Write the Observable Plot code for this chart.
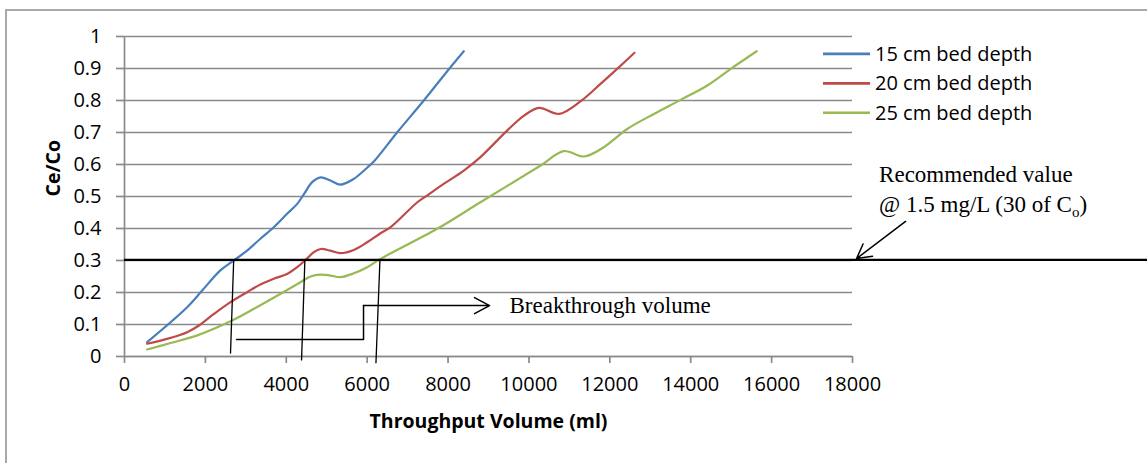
<!DOCTYPE html>
<html><head><meta charset="utf-8">
<script src="https://cdn.jsdelivr.net/npm/d3@7"></script>
<script src="https://cdn.jsdelivr.net/npm/@observablehq/plot@0.6"></script>
<style>
html,body{margin:0;padding:0;background:#fff;overflow:hidden;}
#wrap{position:relative;width:1147px;height:463px;}
#wrap svg{position:absolute;left:0;top:0;}
#frame{position:absolute;left:5px;top:9px;width:1300px;height:600px;border:2px solid #a8a8a8;box-sizing:border-box;pointer-events:none;z-index:2}
</style></head><body><div id="wrap"><div id="frame"></div></div>
<script>
// ---- data ----
const seriesNames = ["15 cm bed depth", "20 cm bed depth", "25 cm bed depth"];
const seriesColors = ["#4A7EBB", "#BE4B48", "#98B954"];

const vol15 = [560, 1550, 1920, 2370, 2700, 3030, 3360, 3690, 4020, 4270, 4440, 4640, 4850, 5090, 5340, 5670, 6000, 6170, 6740, 7400, 8060, 8390];
const ce15  = [0.045, 0.154, 0.206, 0.269, 0.300, 0.331, 0.368, 0.404, 0.446, 0.477, 0.508, 0.545, 0.560, 0.550, 0.537, 0.555, 0.590, 0.610, 0.700, 0.800, 0.904, 0.954];

const vol20 = [560, 1050, 1550, 1840, 2210, 2620, 3030, 3360, 3690, 4020, 4270, 4480, 4680, 4850, 5090, 5340, 5670, 6000, 6330, 6580, 7240, 7480, 7900, 8390, 8800, 9460, 9880, 10250, 10740, 11280, 11770, 12270, 12610];
const ce20  = [0.040, 0.055, 0.076, 0.097, 0.133, 0.170, 0.201, 0.225, 0.243, 0.258, 0.279, 0.302, 0.326, 0.336, 0.331, 0.323, 0.333, 0.357, 0.385, 0.404, 0.482, 0.503, 0.540, 0.581, 0.623, 0.706, 0.753, 0.777, 0.758, 0.798, 0.852, 0.909, 0.949];

const vol25 = [560, 1140, 1800, 2620, 3200, 3860, 4350, 4600, 4850, 5090, 5340, 5670, 6000, 6330, 7730, 8800, 10290, 10860, 11360, 11850, 12430, 13090, 13750, 14410, 14990, 15630];
const ce25  = [0.022, 0.042, 0.066, 0.110, 0.149, 0.196, 0.232, 0.250, 0.256, 0.253, 0.248, 0.260, 0.279, 0.305, 0.399, 0.482, 0.597, 0.642, 0.625, 0.654, 0.711, 0.758, 0.802, 0.847, 0.899, 0.954];

const xTicks = [0, 2000, 4000, 6000, 8000, 10000, 12000, 14000, 16000, 18000];
const xTickLabels = ["0", "2000", "4000", "6000", "8000", "10000", "12000", "14000", "16000", "18000"];
const yTicks = [0, 0.1, 0.2, 0.3, 0.4, 0.5, 0.6, 0.7, 0.8, 0.9, 1];
const yTickLabels = ["0", "0.1", "0.2", "0.3", "0.4", "0.5", "0.6", "0.7", "0.8", "0.9", "1"];

const xTitle = "Throughput Volume (ml)";
const yTitle = "Ce/Co";

// annotations (data units)
const recommendedCeCo = 0.302;
const breakthroughTop = [2700, 4460, 6316];
const breakthroughBottomX = [2621, 4377, 6217];
const breakthroughBottomY = [0.009, -0.0125, -0.021];
const bracketX = [2770, 5910, 5910];
const bracketY = [0.053, 0.053, 0.159];
const breakthroughLabel = "Breakthrough volume";
const recommendedLine1 = "Recommended value";
const recommendedLine2 = ["@ 1.5 mg/L (30 of C", "o", ")"];

// ---- build ----
const ceArrays = [ce15, ce20, ce25];
const series = [vol15, vol20, vol25].map((v, s) => v.map((x, i) => ({x, y: ceArrays[s][i], name: seriesNames[s]})));
const gray = "#8a8a8a";

const plot = Plot.plot({
  width: 1147, height: 463,
  marginLeft: 124, marginRight: 295, marginTop: 36, marginBottom: 107,
  style: {fontFamily: "'Open Sans', sans-serif", fontSize: "20px", background: "white", color: "black", overflow: "visible"},
  x: {domain: [0, 18000]},
  y: {domain: [0, 1]},
  marks: [
    Plot.gridY(yTicks, {stroke: gray, strokeOpacity: 1, strokeWidth: 1.7}),
    Plot.ruleX([0], {stroke: gray, strokeWidth: 1.7}),
    Plot.ruleY([0], {stroke: gray, strokeWidth: 1.7}),
    Plot.axisY(yTicks, {tickSize: 8, tickPadding: 15, stroke: gray, strokeWidth: 1.7, fill: "black", fontSize: 20,
      tickFormat: d => yTickLabels[Math.round(d * 10)], label: null}),
    Plot.axisX(xTicks, {tickSize: 7, tickPadding: 13, stroke: gray, strokeWidth: 1.7, fill: "black", fontSize: 20,
      tickFormat: d => xTickLabels[Math.round(d / 2000)], label: null}),
    ...series.map((d, s) => Plot.line(d, {x: "x", y: "y", stroke: seriesColors[s], strokeWidth: 2.2, curve: "catmull-rom"})),
    Plot.ruleY([recommendedCeCo], {x1: 0, x2: 26000, stroke: "black", strokeWidth: 2.2}),
    Plot.link(breakthroughTop, {x1: d => d, y1: () => recommendedCeCo, x2: (d, i) => breakthroughBottomX[i], y2: (d, i) => breakthroughBottomY[i], stroke: "black", strokeWidth: 1.3}),
    Plot.line(bracketX.map((x, i) => ({x, y: bracketY[i]})), {x: "x", y: "y", stroke: "black", strokeWidth: 1.5}),
    Plot.arrow([0], {x1: () => 5910, y1: () => 0.159, x2: () => 9026, y2: () => 0.159, stroke: "black", strokeWidth: 1.5, headLength: 17, headAngle: 56}),
    Plot.text([breakthroughLabel], {x: () => 9520, y: () => 0.159, text: d => d, textAnchor: "start", fontFamily: "'Liberation Serif', serif", fontSize: 23, fill: "black"}),
    Plot.arrow([0], {x1: () => 19313, y1: () => 0.422, x2: () => 18101, y2: () => 0.306, stroke: "black", strokeWidth: 1.5, headLength: 16, headAngle: 58}),
    Plot.text([xTitle], {frameAnchor: "bottom", dy: 71, text: d => d, fontWeight: "bold", fontSize: 19.5, fill: "black"}),
    Plot.text([yTitle], {frameAnchor: "left", dx: -71, rotate: -90, text: d => d, fontWeight: "bold", fontSize: 19.5, fill: "black"})
  ]
});
document.getElementById("wrap").appendChild(plot);

// recommended value text (with subscript) and legend, positioned via the plot's scales
const svg = d3.select(plot);
const xs = plot.scale("x"), ys = plot.scale("y");
const rx = xs.apply(18670);
const g = svg.append("g").attr("text-anchor", "start").attr("font-family", "'Liberation Serif', serif").attr("font-size", 23).attr("fill", "black");
g.append("text").attr("x", rx).attr("y", ys.apply(0.544)).text(recommendedLine1);
const t2 = g.append("text").attr("x", rx).attr("y", ys.apply(0.45));
t2.append("tspan").text(recommendedLine2[0]);
t2.append("tspan").attr("font-size", 15).attr("dy", 5).text(recommendedLine2[1]);
t2.append("tspan").attr("dy", -5).text(recommendedLine2[2]);

const leg = svg.append("g").attr("text-anchor", "start").attr("font-family", "'Open Sans', sans-serif").attr("font-size", 20).attr("fill", "black");
seriesNames.forEach((name, i) => {
  const y = ys.apply(0.944 - i * 0.092);
  leg.append("line").attr("x1", 823).attr("x2", 870).attr("y1", y).attr("y2", y).attr("stroke", seriesColors[i]).attr("stroke-width", 2.6);
  leg.append("text").attr("x", 875).attr("y", y).attr("dy", "0.35em").text(name);
});
</script></body></html>
